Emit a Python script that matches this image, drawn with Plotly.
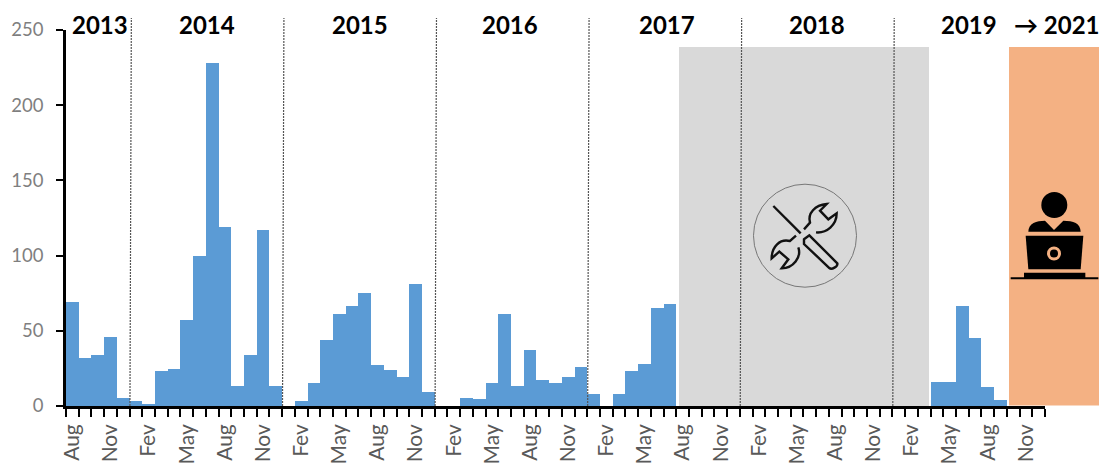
import re
import plotly.graph_objects as go

W, H = 1100, 464
L, R, T, B = 66, 1045, 30, 406

month_cycle = ["Aug", "Nov", "Fev", "May"]
counts_2013 = [69, 32, 34, 46, 5]
counts_2014 = [3, 1, 23, 24.5, 57, 100, 228, 119, 13, 34, 117, 13]
counts_2015 = [0, 3, 15, 44, 61, 66.5, 75, 27, 24, 19, 81, 9]
counts_2016 = [0, 0, 5.5, 4.5, 15, 61, 13, 37, 17.5, 15, 19, 26]
counts_2017 = [8, 0, 8, 23, 28, 65, 68, 0, 0, 0, 0, 0]
counts_2018 = [0] * 12
counts_2019 = [0, 0, 0, 16, 16, 66.5, 45, 12.5, 4, 0, 0, 0]
counts = counts_2013 + counts_2014 + counts_2015 + counts_2016 + counts_2017 + counts_2018 + counts_2019
tick_labels = (month_cycle * 7)[:26]
year_labels = ["2013", "2014", "2015", "2016", "2017", "2018", "2019", "→ 2021"]
year_label_px = [100, 207, 360, 510, 667, 817, 969, 1057]
year_boundaries = [4.5, 16.5, 28.5, 40.5, 52.5, 64.5]

FONT = "Lato"
px = lambda x: (x - L) / (R - L)
py = lambda y: (B - y) / (B - T)


def path(d, ox=0, oy=0, s=1):
    def conv(m):
        return f"{px(ox + float(m[1]) / s):.5f},{py(oy + float(m[2]) / s):.5f}"
    return re.sub(r"(-?[\d.]+),(-?[\d.]+)", conv, d)


def rect(x0, y0, x1, y1, color, layer="below"):
    return dict(type="rect", xref="paper", yref="paper", x0=px(x0), x1=px(x1), y0=py(y1), y1=py(y0),
                fillcolor=color, line_width=0, layer=layer)


def circle(cx, cy, r, fill="rgba(0,0,0,0)", line=None, lw=0):
    return dict(type="circle", xref="paper", yref="paper", x0=px(cx - r), x1=px(cx + r), y0=py(cy + r), y1=py(cy - r),
                fillcolor=fill, line=dict(color=line or "rgba(0,0,0,0)", width=lw), layer="above")


def stroke(d, ox, oy, s, lw=2, fill="rgba(0,0,0,0)", color="#111"):
    return dict(type="path", xref="paper", yref="paper", path=path(d, ox, oy, s), fillcolor=fill,
                line=dict(color=color, width=lw), layer="above")


shapes = [rect(679, 47, 929, 406, "#D9D9D9"), rect(1009, 47, 1099, 405.5, "#F4B183")]
for b in year_boundaries:
    shapes.append(dict(type="line", xref="x", yref="paper", x0=b + 0.03, x1=b + 0.14, y0=0, y1=py(18),
                       line=dict(color="#555", width=1.2, dash="2px,1px"), layer="above"))

# tools icon
ox, oy, s = 730, 170, 3
shapes += [
    circle(805, 235.7, 51.5, line="#777", lw=1),
    stroke("M130,108 L212,190", ox, oy, s, 2.4),
    stroke("M222,208 L238,196 L322,280 C324,290 305,300 298,294 L222,222 Z", ox, oy, s, 2.4),
    stroke("M222,178 L240,158 C232,130 255,105 290,102 L270,122 L295,148 L320,130 C320,165 290,190 258,187", ox, oy, s, 2.4),
    stroke("M198,197 L180,213 C150,205 125,230 125,265 L148,245 L175,268 L155,295 C190,295 215,262 205,232", ox, oy, s, 2.4),
]
# person icon
ox, oy, s = 990, 170, 3
shapes += [
    circle(1054.3, 205, 13, fill="#000"),
    stroke("M115,185 C115,160 140,152 165,152 L192,180 L220,152 C250,152 272,160 272,185 Z", ox, oy, s, 0, "#000"),
    stroke("M107,197 L280,197 L272,298 L115,298 Z", ox, oy, s, 0, "#000"),
    circle(1054, 253.5, 5.5, line="#F4B183", lw=3),
    stroke("M102,308 L286,308 L286,325 L102,325 Z", ox, oy, s, 0, "#000"),
    stroke("M62,325 L325,325", ox, oy, s, 2, color="#000"),
]

annotations = [dict(text=f"<b>{t}</b>", xref="paper", yref="paper", x=px(x), y=py(24), showarrow=False,
                    font=dict(family=FONT, size=24, color="#000"), xanchor="center", yanchor="middle")
               for t, x in zip(year_labels, year_label_px)]

x_index = list(range(len(counts)))
fig = go.Figure()
fig.add_bar(x=x_index, y=counts, width=1, marker=dict(color="#5B9BD5", line=dict(width=0)),
            hoverinfo="skip", showlegend=False)
fig.add_scatter(x=[x_index[0]], y=[0], xaxis="x2", mode="markers", marker_opacity=0, hoverinfo="skip", showlegend=False)

fig.update_layout(
    width=W, height=H, margin=dict(l=L, r=W - R, t=T, b=H - B, autoexpand=False), paper_bgcolor="white",
    plot_bgcolor="rgba(0,0,0,0)", shapes=shapes, annotations=annotations, bargap=0,
    xaxis=dict(range=[-0.5, 76.5], tickmode="array", tickvals=x_index[::3], ticktext=tick_labels, ticks="",
               tickangle=-90, tickfont=dict(family=FONT, size=21, color="#595959"), showgrid=False, zeroline=False,
               showline=False, ticklabelstandoff=13, automargin=False),
    xaxis2=dict(range=[-0.5, 76.5], overlaying="x", anchor="y", side="bottom", tick0=-0.5, dtick=1, ticks="outside",
                ticklen=8, tickwidth=2, tickcolor="#000", showticklabels=False, showgrid=False, zeroline=False,
                showline=True, linecolor="#000", linewidth=2.5, automargin=False),
    yaxis=dict(range=[0, 250], dtick=50, ticks="outside", ticklen=7, tickwidth=2, tickcolor="#000", showgrid=False,
               zeroline=False, showline=True, linecolor="#000", linewidth=2.5, automargin=False,
               tickfont=dict(family=FONT, size=18.5, color="#7F7F7F"), ticklabelstandoff=9),
)
fig.write_html("out.html", config=dict(displayModeBar=False), post_script="document.body.style.margin='0';")
